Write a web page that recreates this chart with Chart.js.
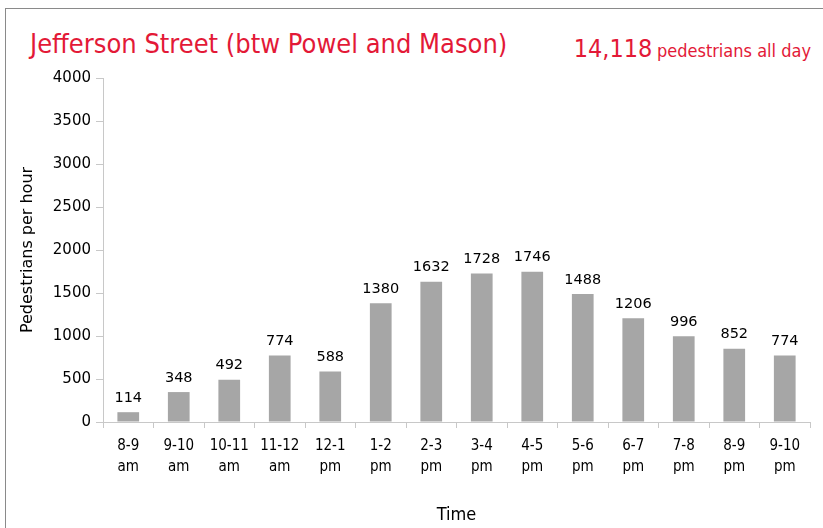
<!DOCTYPE html>
<html>
<head>
<meta charset="utf-8">
<script src="https://cdn.jsdelivr.net/npm/chart.js@4/dist/chart.umd.min.js"></script>
<style>
    html, body { margin: 0; padding: 0; background: #fff; overflow: hidden; }
    #wrap { position: relative; width: 823px; height: 528px; }
    #frame { position: absolute; left: 5px; top: 8px; width: 900px; height: 600px; border: 1.5px solid #8a8a8a; }
    #title { position: absolute; left: 30px; top: 28px; font-family: "Liberation Sans Narrow", "DejaVu Sans Condensed", sans-serif; font-size: 27px; color: #e31937; white-space: nowrap; }
    #total { position: absolute; right: 12px; top: 34px; font-family: "Liberation Sans Narrow", "DejaVu Sans Condensed", sans-serif; color: #e31937; white-space: nowrap; }
    #total b { font-weight: normal; font-size: 25px; }
    #total span { font-size: 18px; }
    canvas { position: absolute; left: 0; top: 0; }
</style>
</head>
<body>
<div id="wrap">
    <div id="frame"></div>
    <div id="title">Jefferson Street (btw Powel and Mason)</div>
    <div id="total"><b>14,118</b> <span>pedestrians all day</span></div>
    <canvas id="pedChart" width="823" height="528"></canvas>
</div>
<script>
var hours = [
    ['8-9', 'am'], ['9-10', 'am'], ['10-11', 'am'], ['11-12', 'am'], ['12-1', 'pm'],
    ['1-2', 'pm'], ['2-3', 'pm'], ['3-4', 'pm'], ['4-5', 'pm'], ['5-6', 'pm'],
    ['6-7', 'pm'], ['7-8', 'pm'], ['8-9', 'pm'], ['9-10', 'pm']
];
var pedestrians = [114, 348, 492, 774, 588, 1380, 1632, 1728, 1746, 1488, 1206, 996, 852, 774];
var yTicks = [0, 500, 1000, 1500, 2000, 2500, 3000, 3500, 4000];

var narrow = '"Liberation Sans Narrow", "DejaVu Sans Condensed", sans-serif';
var plain = '"DejaVu Sans", sans-serif';

// numbers above each bar
var barValues = {
    id: 'barValues',
    afterDatasetsDraw: function (chart) {
        var ctx = chart.ctx;
        var meta = chart.getDatasetMeta(0);
        ctx.save();
        ctx.font = '14.5px ' + plain;
        ctx.fillStyle = '#000';
        ctx.textAlign = 'center';
        ctx.textBaseline = 'bottom';
        meta.data.forEach(function (bar, i) {
            ctx.fillText(String(pedestrians[i]), bar.x, bar.y - 7);
        });
        ctx.restore();
    }
};

new Chart(document.getElementById('pedChart'), {
    type: 'bar',
    data: {
        labels: hours,
        datasets: [{
            data: pedestrians,
            backgroundColor: '#a6a6a6',
            barPercentage: 0.43,
            categoryPercentage: 1
        }]
    },
    options: {
        responsive: false,
        animation: false,
        layout: { padding: { top: 78, right: 13, left: 0, bottom: 0 } },
        plugins: { legend: { display: false }, tooltip: { enabled: false } },
        scales: {
            x: {
                grid: { drawOnChartArea: false, tickLength: 6, color: '#c8c8c8' },
                border: { color: '#c8c8c8' },
                ticks: { color: '#000', font: { family: narrow, size: 15, lineHeight: 1.4 }, padding: 8, maxRotation: 0 },
                title: { display: true, text: 'Time', color: '#000', font: { family: narrow, size: 18 }, padding: { top: 4, bottom: 2 } },
                afterFit: function (s) { s.height = 106; }
            },
            y: {
                min: 0,
                max: 4000,
                afterBuildTicks: function (s) { s.ticks = yTicks.map(function (v) { return { value: v }; }); },
                grid: { drawOnChartArea: false, tickLength: 7, color: '#c8c8c8' },
                border: { color: '#c8c8c8' },
                ticks: { color: '#000', font: { family: plain, size: 15 }, padding: 5, callback: function (v) { return String(v); } },
                title: { display: true, text: 'Pedestrians per hour', color: '#000', font: { family: plain, size: 16 }, padding: { top: 18, bottom: 0 } },
                afterFit: function (s) { s.width = 103; }
            }
        }
    },
    plugins: [barValues]
});
</script>
</body>
</html>
